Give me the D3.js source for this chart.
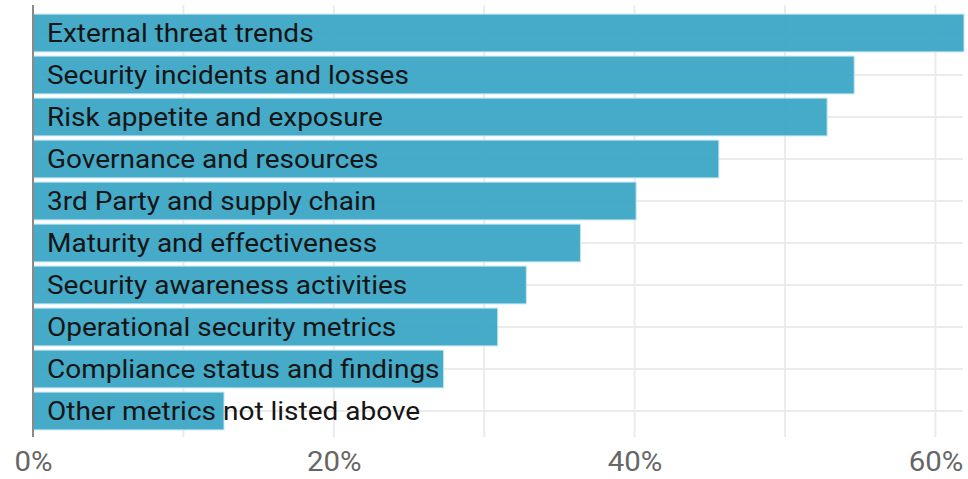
<!DOCTYPE html>
<html>
<head>
<meta charset="utf-8">
<script src="https://cdn.jsdelivr.net/npm/d3@7"></script>
<style>
  body { margin: 0; background: #fff; }
  svg { display: block; font-family: Roboto, sans-serif; }
</style>
</head>
<body>
<div id="app"></div>
<script>
const categories = [
  "External threat trends",
  "Security incidents and losses",
  "Risk appetite and exposure",
  "Governance and resources",
  "3rd Party and supply chain",
  "Maturity and effectiveness",
  "Security awareness activities",
  "Operational security metrics",
  "Compliance status and findings",
  "Other metrics not listed above"
]
const values = [61.9, 54.6, 52.8, 45.6, 40.1, 36.4, 32.8, 30.9, 27.3, 12.7]
const tickValues = [0, 20, 40, 60]
const gridValues = [10, 20, 30, 40, 50, 60]

const width = 968,
  height = 479,
  marginLeft = 33,
  marginRight = 964,
  marginTop = 12,
  marginBottom = 432;

const svg = d3.select("#app")
  .append("svg")
  .attr("width", width)
  .attr("height", height)

const x = d3.scaleLinear()
  .domain([0, d3.max(values)])
  .range([marginLeft, marginRight])

const y = d3.scaleBand()
  .domain(categories)
  .range([marginTop, marginBottom])
  .paddingInner(0.1)
  .paddingOuter(0.05)

// grid
svg.append("g")
  .selectAll("line")
  .data(gridValues)
  .enter()
  .append("line")
  .attr("x1", d => x(d))
  .attr("x2", d => x(d))
  .attr("y1", 5)
  .attr("y2", 437)
  .attr("stroke", "#ebebeb")
  .attr("stroke-width", 2)

svg.append("g")
  .selectAll("line")
  .data(categories)
  .enter()
  .append("line")
  .attr("x1", marginLeft)
  .attr("x2", 963)
  .attr("y1", d => y(d) + y.bandwidth() / 2)
  .attr("y2", d => y(d) + y.bandwidth() / 2)
  .attr("stroke", "#ebebeb")
  .attr("stroke-width", 2)

// bars
svg.append("g")
  .selectAll("rect")
  .data(values)
  .enter()
  .append("rect")
  .attr("x", x(0))
  .attr("y", (d, i) => y(categories[i]))
  .attr("width", d => x(d) - x(0))
  .attr("height", y.bandwidth())
  .attr("fill", "#3ba7c6")
  .attr("fill-opacity", 0.95)
  .attr("stroke", "#c4e6f0")
  .attr("stroke-width", 1)

// labels (source text is a bit wider than plain Roboto)
svg.append("g")
  .selectAll("text")
  .data(categories)
  .enter()
  .append("text")
  .attr("transform", d => "translate(" + (marginLeft + 14) + "," + (y(d) + y.bandwidth() / 2) + ") scale(1.12,1)")
  .attr("dy", "0.37em")
  .attr("font-size", 25)
  .attr("fill", "#151515")
  .text(d => d)

// zero line
svg.append("line")
  .attr("x1", x(0))
  .attr("x2", x(0))
  .attr("y1", 5)
  .attr("y2", 437)
  .attr("stroke", "#8a8a8a")
  .attr("stroke-width", 2)

// x axis
const xAxis = d3.axisBottom(x)
  .tickValues(tickValues)
  .tickFormat(d => d + "%")
  .tickSize(0)
  .tickPadding(0)

const gx = svg.append("g")
  .attr("transform", "translate(0,451)")
  .call(xAxis)
gx.select(".domain").remove()
gx.selectAll("text")
  .attr("font-family", "Roboto, sans-serif")
  .attr("font-size", 28)
  .attr("transform", "scale(1.05,1)")
  .attr("fill", "#666")
</script>
</body>
</html>
